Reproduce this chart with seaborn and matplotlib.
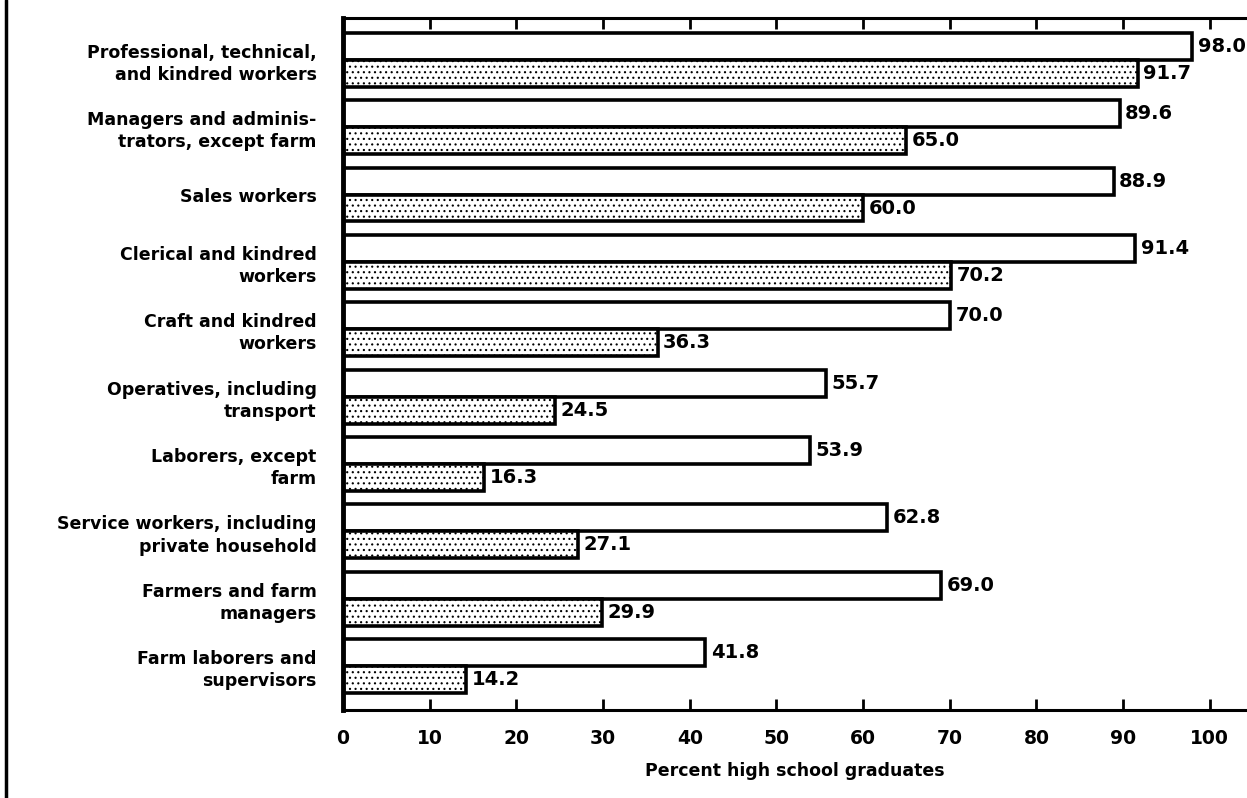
import pandas as pd
import numpy as np
import matplotlib
matplotlib.use("Agg")
import matplotlib.pyplot as plt
from matplotlib.lines import Line2D
import seaborn as sns

# categorias (ocupacoes)
categories = [
    "Professional, technical,\nand kindred workers",
    "Managers and adminis-\ntrators, except farm",
    "Sales workers",
    "Clerical and kindred\nworkers",
    "Craft and kindred\nworkers",
    "Operatives, including\ntransport",
    "Laborers, except\nfarm",
    "Service workers, including\nprivate household",
    "Farmers and farm\nmanagers",
    "Farm laborers and\nsupervisors",
]
# barras brancas (superiores) e pontilhadas (inferiores)
white_values = [98.0, 89.6, 88.9, 91.4, 70.0, 55.7, 53.9, 62.8, 69.0, 41.8]
dotted_values = [91.7, 65.0, 60.0, 70.2, 36.3, 24.5, 16.3, 27.1, 29.9, 14.2]
series_names = ["white", "dotted"]
x_ticks = [0, 10, 20, 30, 40, 50, 60, 70, 80, 90, 100]

df = pd.DataFrame({
    "category": categories * 2,
    "series": [series_names[0]] * len(categories) + [series_names[1]] * len(categories),
    "value": white_values + dotted_values,
})

sns.set_style("white")
plt.rcParams["font.family"] = ["DejaVu Sans"]
plt.rcParams["font.weight"] = "bold"
plt.rcParams["hatch.linewidth"] = 0.8
for key in ["text.color", "axes.labelcolor", "xtick.color", "ytick.color"]:
    plt.rcParams[key] = "black"

fig = plt.figure(figsize=(12.47, 7.98), dpi=100)
ax = fig.add_axes([343 / 1247, 1 - 710 / 798, 1 - 343 / 1247, (710 - 18) / 798])

sns.barplot(
    data=df, y="category", x="value", hue="series", orient="h",
    palette=["white", "white"], edgecolor="black", linewidth=2.6,
    width=0.8, dodge=True, legend=False, saturation=1, ax=ax,
)

# textura pontilhada na segunda serie
for bar in ax.containers[1]:
    bar.set_hatch("...")

for cont in ax.containers:
    ax.bar_label(cont, fmt="%.1f", padding=4, fontsize=14, fontweight="bold")

ax.set_xlim(0, 104.3)
ax.set_ylim(9.65, -0.62)
ax.set_xticks(x_ticks)
ax.set_xticklabels([str(t) for t in x_ticks], fontsize=13.5, fontweight="bold")
ax.tick_params(axis="x", direction="in", length=8, width=2, top=True, bottom=True, pad=14)
ax.tick_params(axis="y", length=0, pad=19, labelsize=12.5)
for lab in ax.get_yticklabels():
    lab.set_fontweight("bold")
    lab.set_linespacing(1.3)
ax.set_ylabel("")
ax.set_xlabel("Percent high school graduates", fontsize=12.5, fontweight="bold", labelpad=10)

ax.spines["right"].set_visible(False)
ax.spines["left"].set_linewidth(3.5)
ax.spines["top"].set_linewidth(2.2)
ax.spines["bottom"].set_linewidth(2.2)
for s in ["left", "top", "bottom"]:
    ax.spines[s].set_color("black")

# borda esquerda da pagina escaneada
fig.add_artist(Line2D([0.005, 0.005], [0, 1], transform=fig.transFigure, color="black", lw=2.5))

plt.savefig("out.png", dpi=100)
